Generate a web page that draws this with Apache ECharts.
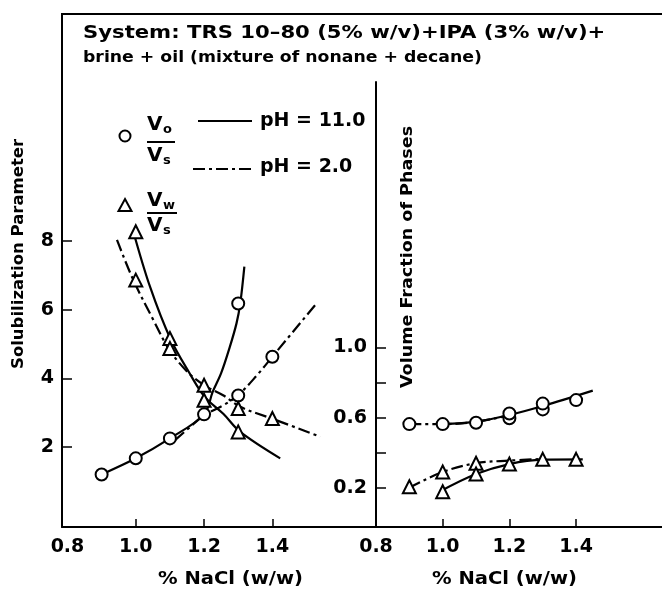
<!DOCTYPE html>
<html>
<head>
<meta charset="utf-8">
<script src="https://cdn.jsdelivr.net/npm/echarts@6.0.0/dist/echarts.min.js"></script>
<style>html,body{margin:0;padding:0;background:#fff}#c{width:662px;height:591px}</style>
</head>
<body>
<div id="c"></div>
<script>
// ---- Tick labels ----
const xTicks = [0.8, 1.0, 1.2, 1.4];
const leftYTicks = [2, 4, 6, 8];
const rightYTickMarks = [0.2, 0.4, 0.6, 0.8, 1.0];
const rightYLabels = [0.2, 0.6, 1.0];

// ---- Left panel: solubilization parameter ----
// fitted curves
const voPH11Curve = [[0.9,1.2],[1.0,1.67],[1.1,2.25],[1.2,2.95],[1.225,3.6],[1.25,4.15],[1.275,4.9],[1.295,5.6],[1.306,6.18],[1.318,7.25]];
const voPH2Curve  = [[1.115,2.2],[1.16,2.59],[1.2,2.92],[1.257,3.22],[1.3,3.51],[1.355,4.09],[1.4,4.63],[1.525,6.13]];
const vwPH11Curve = [[0.993,8.27],[1.042,6.66],[1.101,5.16],[1.158,4.14],[1.202,3.46],[1.257,2.96],[1.306,2.44],[1.423,1.67]];
const vwPH2Curve  = [[0.945,8.03],[0.993,6.86],[1.052,5.69],[1.096,4.87],[1.15,4.2],[1.2,3.8],[1.257,3.5],[1.306,3.17],[1.398,2.83],[1.54,2.3]];
// measured points
const voPoints = [[0.9,1.2],[1.0,1.67],[1.1,2.25],[1.2,2.95],[1.3,6.18],[1.3,3.5],[1.4,4.63]];
const vwPoints = [[1.0,8.27],[1.1,5.16],[1.2,3.36],[1.3,2.44],[1.0,6.86],[1.1,4.87],[1.2,3.8],[1.3,3.12],[1.4,2.83]];

// ---- Right panel: volume fraction of phases ----
const oilPH11Curve = [[1.0,0.563],[1.1,0.577],[1.2,0.615],[1.3,0.666],[1.45,0.754]];
const oilPH2Curve  = [[0.9,0.563],[1.0,0.563],[1.1,0.576],[1.2,0.614]];
const watPH11Curve = [[0.99,0.177],[1.1,0.278],[1.2,0.335],[1.3,0.36],[1.42,0.362]];
const watPH2Curve  = [[0.9,0.2],[1.0,0.29],[1.1,0.34],[1.2,0.355],[1.3,0.364]];
const oilPoints = [[0.9,0.563],[1.0,0.563],[1.1,0.571],[1.2,0.596],[1.2,0.624],[1.3,0.647],[1.3,0.68],[1.4,0.70]];
const watPoints = [[0.9,0.206],[1.0,0.29],[1.0,0.177],[1.1,0.34],[1.1,0.278],[1.2,0.335],[1.3,0.362],[1.4,0.362]];

const FONT = '"DejaVu Sans", "Liberation Sans", sans-serif';
const DASHDOT = [12, 4, 3, 4];
const chart = echarts.init(document.getElementById('c'), null, {renderer: 'canvas'});

function curve(data, dashed, xi) {
  return {type: 'line', xAxisIndex: xi, yAxisIndex: xi, data: data, smooth: 0.35, showSymbol: false, symbol: 'none',
    silent: true, z: 2,
    lineStyle: {color: '#000', width: 2.2, type: dashed ? DASHDOT : 'solid'}};
}
function marks(data, sym, size, xi) {
  return {type: 'scatter', xAxisIndex: xi, yAxisIndex: xi, data: data, symbol: sym, symbolSize: size, z: 5,
    itemStyle: {color: '#fff', borderColor: '#000', borderWidth: 2, opacity: 1}};
}
const axisLabelStyle = {color: '#000', fontSize: 19, fontWeight: 'bold', fontFamily: FONT};
function txt(text, x, y, size, sx, extra) {
  return Object.assign({type: 'text', x: x, y: y, scaleX: sx || 1,
    style: {text: text, font: 'bold ' + size + 'px ' + FONT, fill: '#000', align: 'left', verticalAlign: 'middle'}}, extra || {});
}

const option = {
  animation: false,
  backgroundColor: '#fff',
  grid: [
    {left: 62, top: 14, width: 314, bottom: 64},
    {left: 376, top: 82, right: 0, bottom: 64}
  ],
  xAxis: [
    {gridIndex: 0, type: 'value', min: 0.784, max: 1.7035, splitLine: {show: false},
     axisLine: {onZero: false, lineStyle: {color: '#000', width: 2}},
     axisTick: {inside: true, length: 8, customValues: [1.0, 1.2, 1.4], lineStyle: {color: '#000', width: 1.5}},
     axisLabel: Object.assign({customValues: xTicks, margin: 11, formatter: v => v.toFixed(1)}, axisLabelStyle)},
    {gridIndex: 1, type: 'value', min: 0.8, max: 1.6576, splitLine: {show: false},
     axisLine: {onZero: false, lineStyle: {color: '#000', width: 2}},
     axisTick: {inside: true, length: 8, customValues: [1.0, 1.2, 1.4], lineStyle: {color: '#000', width: 1.5}},
     axisLabel: Object.assign({customValues: xTicks, margin: 11, formatter: v => v.toFixed(1)}, axisLabelStyle)}
  ],
  yAxis: [
    {gridIndex: 0, type: 'value', min: -0.33, max: 14.61, splitLine: {show: false},
     axisLine: {onZero: false, lineStyle: {color: '#000', width: 2}},
     axisTick: {inside: true, length: 10, customValues: leftYTicks, lineStyle: {color: '#000', width: 1.5}},
     axisLabel: Object.assign({customValues: leftYTicks, margin: 8}, axisLabelStyle)},
    {gridIndex: 1, type: 'value', min: -0.024, max: 2.515, splitLine: {show: false},
     axisLine: {onZero: false, lineStyle: {color: '#000', width: 2}},
     axisTick: {inside: true, length: 10, customValues: rightYTickMarks, lineStyle: {color: '#000', width: 1.5}},
     axisLabel: Object.assign({customValues: rightYLabels, margin: 9, formatter: v => v.toFixed(1)}, axisLabelStyle)}
  ],
  series: [
    curve(voPH11Curve, false, 0), curve(voPH2Curve, true, 0),
    curve(vwPH11Curve, false, 0), curve(vwPH2Curve, true, 0),
    marks(voPoints, 'circle', 12, 0), marks(vwPoints, 'triangle', 13, 0),
    curve(oilPH11Curve, false, 1), curve(oilPH2Curve, true, 1),
    curve(watPH11Curve, false, 1), curve(watPH2Curve, true, 1),
    marks(oilPoints, 'circle', 12, 1), marks(watPoints, 'triangle', 13, 1)
  ],
  graphic: [
    {type: 'line', shape: {x1: 61, y1: 14, x2: 662, y2: 14}, style: {stroke: '#000', lineWidth: 2}, z: 10},
    txt('System: TRS 10\u201380 (5% w/v)+IPA (3% w/v)+', 83, 34, 17, 1.245),
    txt('brine + oil (mixture of nonane + decane)', 83, 58, 16, 1.08),
    // axis titles
    txt('% NaCl (w/w)', 158, 580, 17, 1.15),
    txt('% NaCl (w/w)', 432, 580, 17, 1.15),
    {type: 'text', x: 19, y: 369, rotation: Math.PI / 2, scaleX: 1.1,
     style: {text: 'Solubilization Parameter', font: 'bold 15px ' + FONT, fill: '#000', align: 'left', verticalAlign: 'middle'}},
    {type: 'text', x: 408, y: 388, rotation: Math.PI / 2, scaleX: 1.17,
     style: {text: 'Volume Fraction of Phases', font: 'bold 15px ' + FONT, fill: '#000', align: 'left', verticalAlign: 'middle'}},
    // legend
    {type: 'circle', shape: {cx: 125, cy: 136, r: 5.5}, style: {fill: '#fff', stroke: '#000', lineWidth: 2}},
    {type: 'polygon', shape: {points: [[125, 199], [131.5, 211], [118.5, 211]]}, style: {fill: '#fff', stroke: '#000', lineWidth: 2}},
    txt('V', 147, 125, 20),
    txt('o', 163, 130, 13),
    {type: 'line', shape: {x1: 147, y1: 142, x2: 175, y2: 142}, style: {stroke: '#000', lineWidth: 2}},
    txt('V', 147, 156, 20),
    txt('s', 163, 161, 13),
    txt('V', 147, 201, 20),
    txt('w', 163, 206, 13),
    {type: 'line', shape: {x1: 147, y1: 213, x2: 177, y2: 213}, style: {stroke: '#000', lineWidth: 2}},
    txt('V', 147, 226, 20),
    txt('s', 163, 231, 13),
    {type: 'line', shape: {x1: 198, y1: 121, x2: 252, y2: 121}, style: {stroke: '#000', lineWidth: 2}},
    txt('pH = 11.0', 260, 121, 19),
    {type: 'line', shape: {x1: 193, y1: 169, x2: 253, y2: 169}, style: {stroke: '#000', lineWidth: 2, lineDash: DASHDOT}},
    txt('pH = 2.0', 260, 167, 19)
  ]
};
chart.setOption(option);
</script>
</body>
</html>
